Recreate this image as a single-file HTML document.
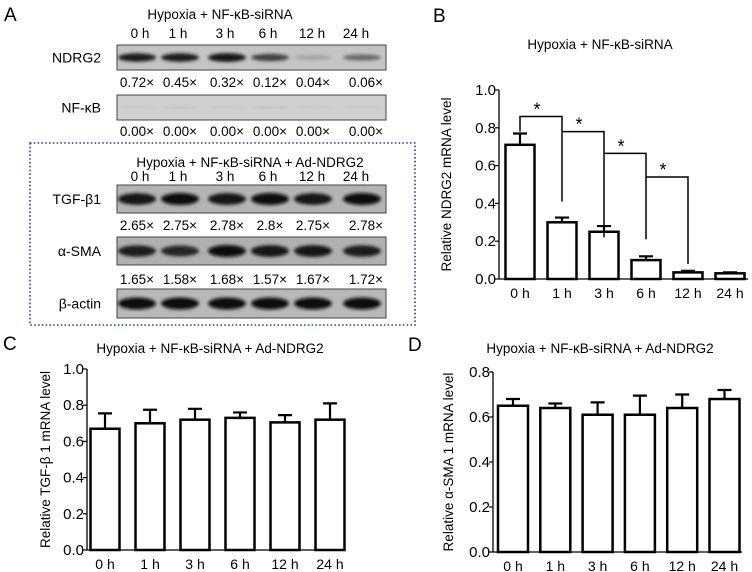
<!DOCTYPE html>
<html><head><meta charset="utf-8"><style>
body{margin:0;background:#fff}
svg{display:block;font-family:"Liberation Sans",sans-serif}
</style></head><body>
<svg id="fig" width="752" height="572" viewBox="0 0 752 572">
<defs>
<filter id="bl" x="-20%" y="-50%" width="140%" height="200%"><feGaussianBlur stdDeviation="1.5"/></filter>
</defs>
<g id="panelA"></g>
<g id="charts"></g>
</svg>
<script>
// ===== Data =====
const categories = ["0 h","1 h","3 h","6 h","12 h","24 h"];
const ndrg2Values = [0.71,0.30,0.25,0.10,0.035,0.03];
const ndrg2Errors = [0.06,0.025,0.03,0.02,0.008,0.005];
const tgfValues = [0.67,0.70,0.72,0.73,0.705,0.72];
const tgfErrors = [0.085,0.075,0.06,0.03,0.04,0.09];
const smaValues = [0.65,0.64,0.61,0.61,0.64,0.68];
const smaErrors = [0.03,0.02,0.055,0.085,0.06,0.04];
const ticksB = ["0.0","0.2","0.4","0.6","0.8","1.0"];
const ticksC = ["0.0","0.2","0.4","0.6","0.8","1.0"];
const ticksD = ["0.0","0.2","0.4","0.6","0.8"];
const bracketFrom = [0,1,2,3];
const bracketLevel = [0.86,0.78,0.665,0.54];
const bracketEnd = [0.41,0.22,0.21,0.08];
const ndrg2Ratio = ["0.72×","0.45×","0.32×","0.12×","0.04×","0.06×"];
const nfkbRatio = ["0.00×","0.00×","0.00×","0.00×","0.00×","0.00×"];
const tgfRatio = ["2.65×","2.75×","2.78×","2.8×","2.75×","2.78×"];
const smaRatio = ["1.65×","1.58×","1.68×","1.57×","1.67×","1.72×"];
const ndrg2Band = [0.9,0.9,0.95,0.7,0.2,0.5];
const nfkbBand = [0.05,0.08,0.05,0.08,0.03,0.06];
const tgfBand = [0.95,1,0.95,1,0.95,1];
const smaBand = [0.9,0.85,1,0.95,0.95,0.9];
const actinBand = [1,1,1,1,1,1];

const NS="http://www.w3.org/2000/svg";
function mk(parent,tag,attrs,text){const e=document.createElementNS(NS,tag);for(const k in attrs)e.setAttribute(k,attrs[k]);if(text!==undefined)e.textContent=text;parent.appendChild(e);return e;}

// ===== Panel A =====
const A=document.getElementById('panelA');
const laneX=[137,180,227,270,313,362];
const labelLaneX=[140,178,225,268,312,356];
let t;
t=mk(A,'text',{x:4,y:21,'font-size':19});t.textContent='A';


function laneRow(y){categories.forEach((c,i)=>{const e=mk(A,'text',{x:labelLaneX[i],y:y,'font-size':13.5,'text-anchor':'middle'},c);

});}
function ratioRow(arr,y){arr.forEach((c,i)=>{const e=mk(A,'text',{x:laneX[i]+(i==5?4:0),y:y,'font-size':13.5,'text-anchor':'middle'},c);

});}
function blot(name,label,y,h,bg,bands,bh){
  const g=mk(A,'g',{});
  
  
  mk(g,'rect',{x:117,y:y,width:269,height:h,fill:bg,stroke:'#444','stroke-width':1});
  bands.forEach((v,i)=>{const c=Math.round(200-190*v);mk(g,'ellipse',{cx:laneX[i],cy:y+h/2,rx:19,ry:bh*(0.4+0.6*v),fill:`rgb(${c},${c},${c})`,filter:'url(#bl)'});});
  const l=mk(A,'text',{x:101,y:y+h/2+5,'font-size':14,'text-anchor':'end'},label);
  
  
}
t=mk(A,'text',{x:220,y:19,'font-size':13.5,'text-anchor':'middle'},'Hypoxia + NF-κB-siRNA');


laneRow(38);
blot('ndrg2-blot','NDRG2',45,25,'#c4c4c4',ndrg2Band,4.5);
ratioRow(ndrg2Ratio,87);
blot('nfkb-blot','NF-κB',95,25,'#d0d0d0',nfkbBand,2);
ratioRow(nfkbRatio,136);
const box=mk(A,'rect',{x:30,y:143,width:385,height:182,fill:'none',stroke:'#2d4a78','stroke-width':1.6,'stroke-dasharray':'1.6 2.2'});


t=mk(A,'text',{x:250,y:167,'font-size':13.5,'text-anchor':'middle'},'Hypoxia + NF-κB-siRNA + Ad-NDRG2');


laneRow(181);
blot('tgf-blot','TGF-β1',185,28,'#b4b4b4',tgfBand,6);
ratioRow(tgfRatio,230);
blot('sma-blot','α-SMA',237,28,'#b0b0b0',smaBand,6);
ratioRow(smaRatio,284);
blot('actin-blot','β-actin',289,29,'#b8b8b8',actinBand,6);

// ===== Charts =====
const C=document.getElementById('charts');
function chart(o){
  const g=mk(C,'g',{});
  
  
  const y=v=>o.y0-(v/o.max)*(o.y0-o.yTop);
  const x=i=>o.x0+o.step*i;
  let e=mk(g,'text',{x:o.lx,y:o.ly,'font-size':19},o.letter);
  
  
  e=mk(g,'text',{x:o.tx,y:o.ty,'font-size':13.5,'text-anchor':'middle'},o.title);
  
  
  e=mk(g,'text',{x:0,y:0,'font-size':13.5,'text-anchor':'middle',transform:`translate(${o.yx},${(o.y0+o.yTop)/2}) rotate(-90)`},o.ytitle);
  
  
  e=mk(g,'line',{x1:o.ax,y1:o.yTop,x2:o.ax,y2:o.y0,stroke:'#000','stroke-width':1.3});
  
  
  e=mk(g,'line',{x1:o.ax,y1:o.y0,x2:o.xEnd,y2:o.y0,stroke:'#000','stroke-width':1.3});
  
  
  o.ticks.forEach(tk=>{const v=parseFloat(tk);
    mk(g,'line',{x1:o.ax-4,y1:y(v),x2:o.ax,y2:y(v),stroke:'#000','stroke-width':1.2});
    const l=mk(g,'text',{x:o.ax-3,y:y(v)+5,'font-size':15,'text-anchor':'end'},tk);
    
    });
  o.vals.forEach((v,i)=>{
    const cx=x(i);
    const b=mk(g,'rect',{x:cx-o.bw/2,y:y(v),width:o.bw,height:o.y0-y(v),fill:'#fff',stroke:'#000','stroke-width':2.5});
    
    
    const top=y(v+o.errs[i]);
    const eb=mk(g,'path',{d:`M${cx} ${y(v)}V${top}M${cx-7} ${top}H${cx+7}`,stroke:'#000','stroke-width':2.2,fill:'none'});
    
    
    const xl=mk(g,'text',{x:cx,y:o.y0+19,'font-size':14,'text-anchor':'middle'},categories[i]);
    
    
  });
  return {g,x,y};
}
const B=chart({name:'chart-b',letter:'B',lx:433,ly:22,title:'Hypoxia + NF-κB-siRNA',tx:600,ty:49,ytitle:'Relative NDRG2 mRNA level',yx:451,
  ax:499,xEnd:748,y0:279,yTop:90,max:1.0,x0:520,step:42,bw:29,vals:ndrg2Values,errs:ndrg2Errors,ticks:ticksB});
bracketFrom.forEach((f,k)=>{
  const x1=B.x(f),x2=B.x(f+1),h=B.y(bracketLevel[k]);
  const leftEnd=k===0?B.y(0.78):h;
  const p=mk(B.g,'path',{d:`M${x1} ${leftEnd}V${h}H${x2}V${B.y(bracketEnd[k])}`,stroke:'#000','stroke-width':1.5,fill:'none'});
  
  
  const s=mk(B.g,'text',{x:(x1+x2)/2-4,y:h-1,'font-size':18,'text-anchor':'middle'},'*');
  
  
});
chart({name:'chart-c',letter:'C',lx:3,ly:350,title:'Hypoxia + NF-κB-siRNA + Ad-NDRG2',tx:210,ty:353,ytitle:'Relative TGF-β 1 mRNA level',yx:50,
  ax:87,xEnd:340,y0:550,yTop:369,max:1.0,x0:105,step:45,bw:29,vals:tgfValues,errs:tgfErrors,ticks:ticksC});
chart({name:'chart-d',letter:'D',lx:408,ly:351,title:'Hypoxia + NF-κB-siRNA + Ad-NDRG2',tx:600,ty:353,ytitle:'Relative α-SMA 1 mRNA level',yx:453,
  ax:493,xEnd:742,y0:552,yTop:372,max:0.8,x0:513,step:42.3,bw:30,vals:smaValues,errs:smaErrors,ticks:ticksD});
</script>
</body></html>
